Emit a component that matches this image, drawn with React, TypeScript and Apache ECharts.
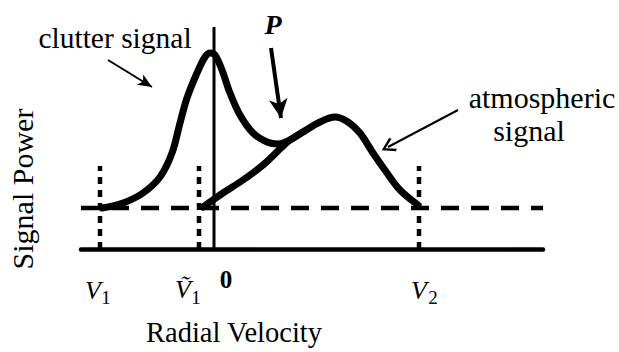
import React, { useEffect, useRef } from "react";
import * as echarts from "echarts";

// Velocity (x) and power (y) in arbitrary units
const totalX = [-11.2, -9.1, -7.1, -5.4, -4.2, -3.4, -2.7, -1.7, -0.9, -0.4, 0.1, 0.8, 1.6, 2.6, 3.9, 5.3, 6.4, 7.6, 8.9, 10.6, 12.1, 13.4, 14.6, 15.9, 17.3, 18.6, 20.4];
const totalY = [4.1, 4.6, 5.6, 7.2, 9.6, 12.6, 15.1, 17.6, 19.2, 19.6, 19.4, 17.9, 15.6, 13.4, 11.6, 10.7, 10.5, 10.9, 11.7, 12.7, 13.2, 12.7, 11.6, 9.6, 7.6, 5.9, 4.4];
const atmosX = [-1.1, 0.9, 2.9, 4.9, 6.8, 7.6, 8.9];
const atmosY = [4.2, 5.6, 6.9, 8.4, 10.2, 10.9, 11.7];
const noiseLevel = 4.1;
const markerNames = ["V1", "tildeV1", "V2"];
const markerX = [-11.4, -1.5, 20.5];
const markerTop = 8.3;
const xRange = [-13.3, 32.9];
const yRange = [0, 22.2];
// arrows: [startX, startY, endX, endY]
const clutterArrow = [-10.6, 18.9, -6.2, 16.2];
const pArrow = [5.7, 20.1, 6.7, 13.1];
const atmosArrow = [24.4, 13.9, 17.4, 10.2];

const FONT = "Liberation Serif";

export default function App() {
  const ref = useRef<HTMLDivElement>(null);
  useEffect(() => {
    if (!ref.current) return;
    const chart = echarts.init(ref.current, null, { renderer: "svg" });
    const zip = (xs: number[], ys: number[]) => xs.map((x, i) => [x, ys[i]]);
    const arrowSeries = (a: number[], width: number, sym: string, size: number[]) => ({
      type: "line",
      data: [[a[0], a[1]]],
      symbol: "none",
      lineStyle: { width: 0 },
      markLine: {
        silent: true,
        animation: false,
        label: { show: false },
        lineStyle: { color: "#000", width, type: "solid" },
        emphasis: { disabled: true },
        data: [
          [
            { coord: [a[0], a[1]], symbol: "none" },
            { coord: [a[2], a[3]], symbol: sym, symbolSize: size },
          ],
        ],
      },
    });
    const txt = (text: string, x: number, y: number, size: number, extra: any = {}) => ({
      type: "text",
      x,
      y,
      silent: true,
      ...(extra.rotation ? { rotation: extra.rotation } : {}),
      style: {
        text,
        fontFamily: FONT,
        fontSize: size,
        fontStyle: extra.italic ? "italic" : "normal",
        fontWeight: extra.bold ? "bold" : "normal",
        fill: "#000",
        align: "center",
        verticalAlign: "middle",
      },
    });
    chart.setOption({
      animation: false,
      backgroundColor: "#fff",
      grid: { left: 81, right: 76, top: 27, bottom: 103, containLabel: false },
      xAxis: {
        type: "value",
        min: xRange[0],
        max: xRange[1],
        axisLine: { show: true, onZero: false, lineStyle: { color: "#000", width: 4.5 } },
        axisTick: { show: false },
        axisLabel: { show: false },
        splitLine: { show: false },
      },
      yAxis: {
        type: "value",
        min: yRange[0],
        max: yRange[1],
        axisLine: { show: false },
        axisTick: { show: false },
        axisLabel: { show: false },
        splitLine: { show: false },
      },
      series: [
        {
          type: "line",
          data: [[xRange[0], noiseLevel], [xRange[1], noiseLevel]],
          symbol: "none",
          lineStyle: { color: "#000", width: 4.5, type: [18, 12], cap: "butt" },
        },
        ...markerX.map((mx, i) => ({
          name: markerNames[i],
          type: "line",
          data: [[mx, 0], [mx, markerTop]],
          symbol: "none",
          lineStyle: { color: "#000", width: 4.5, type: [7, 6], cap: "butt" },
        })),
        {
          type: "line",
          data: [[0, 0], [0, yRange[1]]],
          symbol: "none",
          lineStyle: { color: "#000", width: 3 },
        },
        {
          type: "line",
          data: zip(atmosX, atmosY),
          symbol: "none",
          smooth: 0.35,
          lineStyle: { color: "#000", width: 7, cap: "round", join: "round" },
        },
        {
          type: "line",
          data: zip(totalX, totalY),
          symbol: "none",
          smooth: 0.35,
          lineStyle: { color: "#000", width: 7, cap: "round", join: "round" },
        },
        arrowSeries(clutterArrow, 2, "arrow", [9, 14]),
        arrowSeries(pArrow, 4, "arrow", [14, 19]),
        arrowSeries(atmosArrow, 2, "path://M0,0 L10,13 L7.5,15 L0,4.5 L-7.5,15 L-10,13 Z", [15, 14]),
      ],
      graphic: [
        txt("clutter signal", 115, 38, 29.5),
        txt("P", 273, 24, 28, { italic: true, bold: true }),
        txt("atmospheric", 542, 97, 30),
        txt("signal", 529, 130, 30),
        txt("Signal Power", 22, 189, 30, { rotation: Math.PI / 2 }),
        txt("Radial Velocity", 234, 332, 28.5),
        txt("0", 226, 279, 25, { bold: true }),
        txt("V", 93, 290, 26, { italic: true }),
        txt("1", 106, 297, 19),
        txt("\u1E7C", 183, 289, 26, { italic: true }),
        txt("1", 196, 297, 19),
        txt("V", 419, 290, 26, { italic: true }),
        txt("2", 433, 297, 19),
      ],
    });
    return () => chart.dispose();
  }, []);
  return (
    <div
      ref={ref}
      style={{ position: "fixed", left: 0, top: 0, width: 619, height: 352, background: "#fff" }}
    />
  );
}
